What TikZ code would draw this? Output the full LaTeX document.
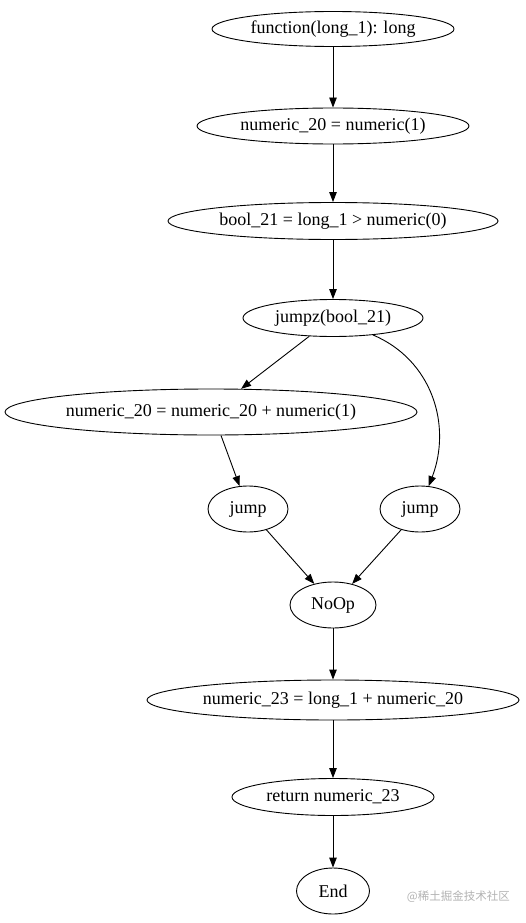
\documentclass[tikz,border=0pt]{standalone}
\usepackage{fontspec}
\setmainfont{Liberation Serif}
\newfontfamily\cjkfont{Noto Sans CJK SC}
\usetikzlibrary{shapes.geometric,arrows.meta}
\tikzset{
  gnode/.style={ellipse, draw, line width=0.9pt, inner sep=0pt, font=\fontsize{18}{20}\selectfont},
  gedge/.style={draw, line width=0.9pt, -{Triangle[length=10pt,width=7.5pt]}},
}
\begin{document}
\begin{tikzpicture}[x=1pt,y=-1pt]
\useasboundingbox (0,0) rectangle (525,923);
\node[gnode, minimum width=242pt, minimum height=35pt] (n1) at (333,29) {function(long\_1): long};
\node[gnode, minimum width=272pt, minimum height=36pt] (n2) at (333,126) {numeric\_20 = numeric(1)};
\node[gnode, minimum width=330pt, minimum height=37pt] (n3) at (333,221) {bool\_21 = long\_1 > numeric(0)};
\node[gnode, minimum width=180pt, minimum height=37pt] (n4) at (333,318) {jumpz(bool\_21)};
\node[gnode, minimum width=412pt, minimum height=46pt] (n5) at (211,412) {numeric\_20 = numeric\_20 + numeric(1)};
\node[gnode, minimum width=80pt, minimum height=46pt] (n6) at (248,509) {jump};
\node[gnode, minimum width=80pt, minimum height=46pt] (n7) at (420,509) {jump};
\node[gnode, minimum width=86pt, minimum height=46pt] (n8) at (333,605) {NoOp};
\node[gnode, minimum width=372pt, minimum height=40pt] (n9) at (333,700) {numeric\_23 = long\_1 + numeric\_20};
\node[gnode, minimum width=202pt, minimum height=37pt] (n10) at (333,797) {return numeric\_23};
\node[gnode, minimum width=73pt, minimum height=46pt] (n11) at (333,891) {End};
\node[text=black!30, font=\cjkfont\fontsize{11.5}{13}\selectfont, anchor=east, inner sep=0pt] (wm) at (510,897) {@稀土掘金技术社区};

\path[gedge] (n1) -- (n2);
\path[gedge] (n2) -- (n3);
\path[gedge] (n3) -- (n4);
\path[gedge] (n4) -- (n5);
\path[gedge] (n4) .. controls (432,360) and (452,425) .. (n7);
\path[gedge] (n5.south -| 221,0) -- (n6);
\path[gedge] (n6) -- (n8);
\path[gedge] (n7) -- (n8);
\path[gedge] (n8) -- (n9);
\path[gedge] (n9) -- (n10);
\path[gedge] (n10) -- (n11);
\end{tikzpicture}
\end{document}
